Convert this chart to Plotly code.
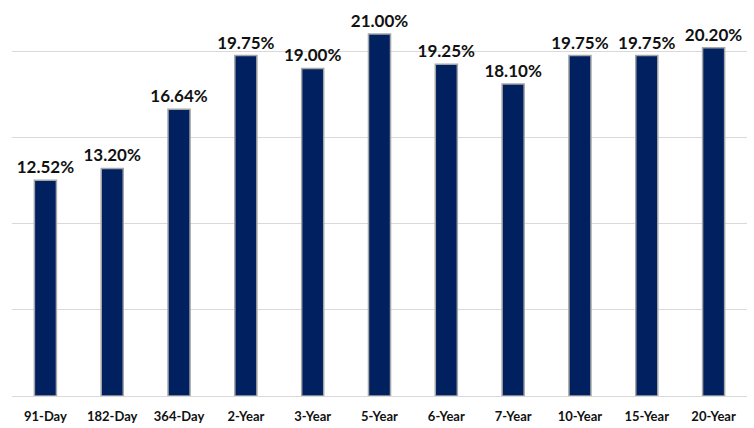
import plotly.graph_objects as go

categories = ["91-Day", "182-Day", "364-Day", "2-Year", "3-Year", "5-Year",
              "6-Year", "7-Year", "10-Year", "15-Year", "20-Year"]
values = [12.52, 13.20, 16.64, 19.75, 19.00, 21.00, 19.25, 18.10, 19.75, 19.75, 20.20]
labels = [f"{v:.2f}%" for v in values]

fig = go.Figure(go.Bar(
    x=categories, y=values, text=labels, textposition="outside",
    cliponaxis=False, constraintext="none",
    marker=dict(color="#002060", line=dict(color="#a6a6a6", width=1.5)),
    textfont=dict(family="Lato", size=17, color="#111111", weight="bold"),
))
fig.update_layout(
    width=754, height=428,
    margin=dict(l=12, r=7, t=0, b=32),
    plot_bgcolor="white", paper_bgcolor="white",
    bargap=0.67, showlegend=False,
    xaxis=dict(showline=True, linecolor="#d9d9d9", linewidth=1, ticks="",
               ticklabelstandoff=8,
               tickfont=dict(family="Lato", size=13, color="#111111", weight="bold")),
    yaxis=dict(range=[0, 22.97], dtick=5, showgrid=True, gridcolor="#d9d9d9",
               showticklabels=False, zeroline=False),
)
fig.write_html("out.html")
